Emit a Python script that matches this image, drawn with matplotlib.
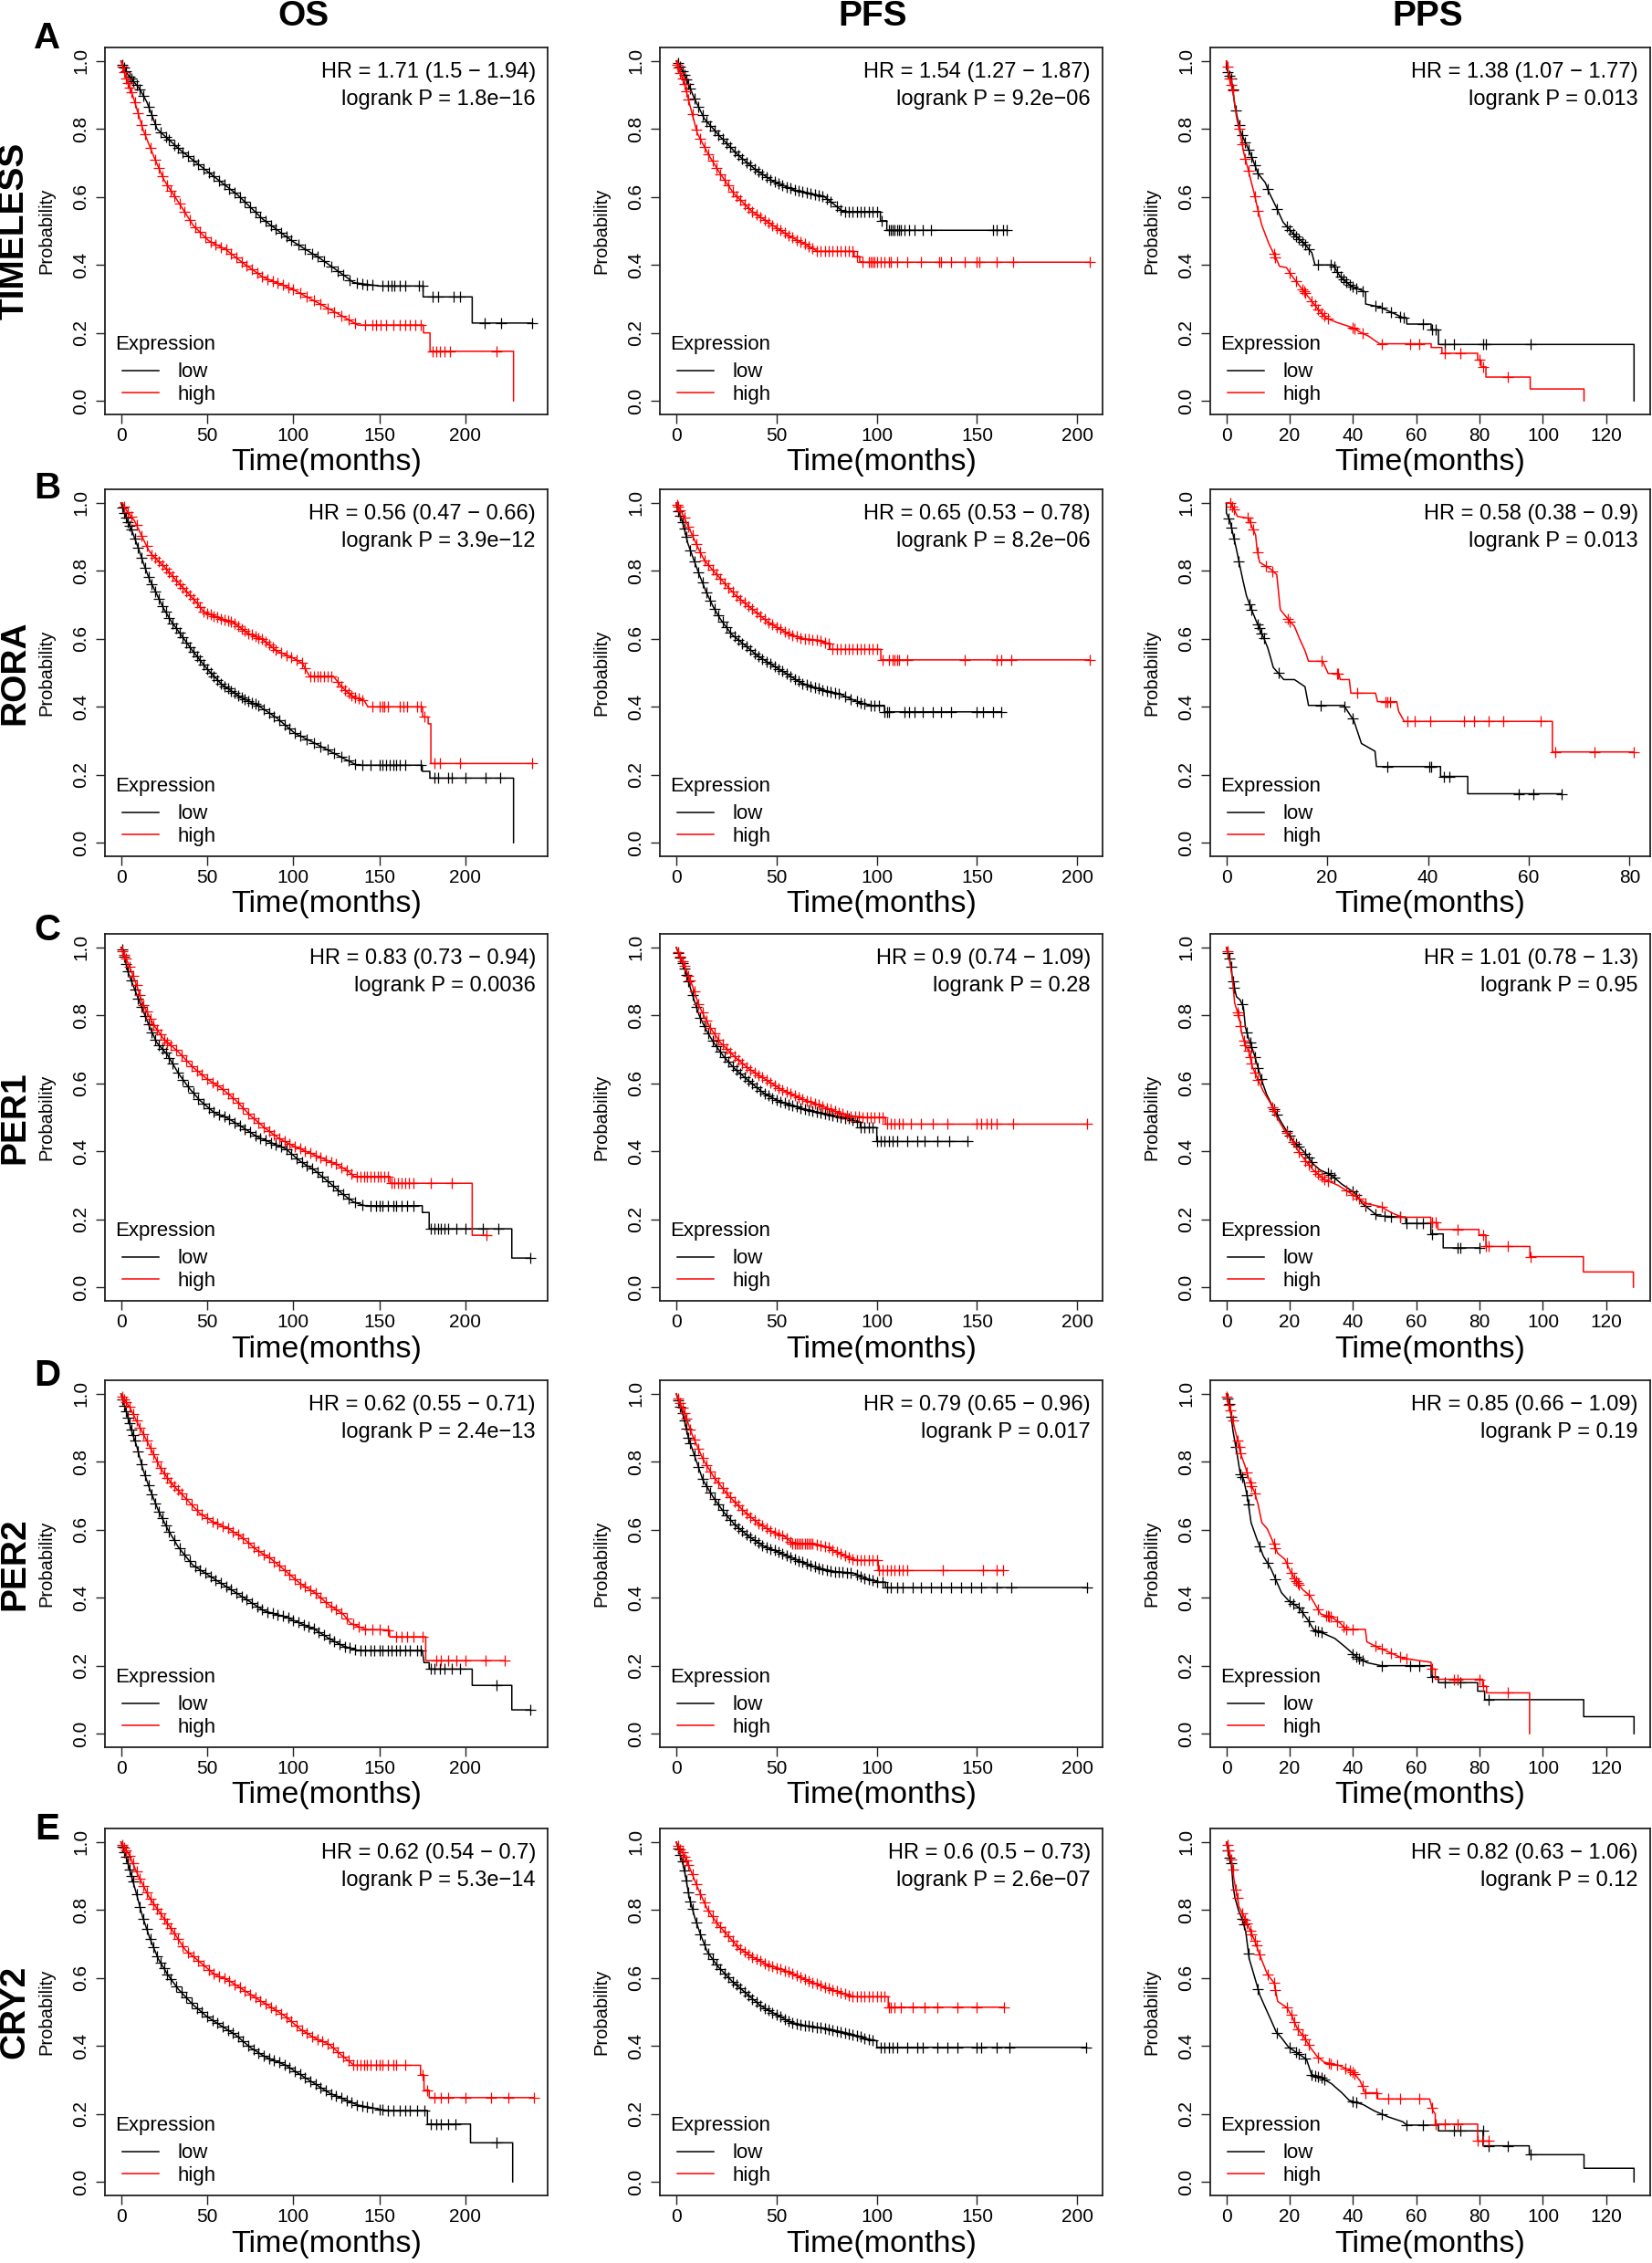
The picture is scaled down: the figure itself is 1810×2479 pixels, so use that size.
import numpy as np
import matplotlib
matplotlib.use("Agg")
import matplotlib.pyplot as plt

plt.rcParams["font.family"] = ["Liberation Sans", "DejaVu Sans"]

# ---- Kaplan-Meier curves: vertices (t, s) and censor times ----
# Row A: TIMELESS
os_timeless_low_t = [0, 4, 10.6, 15, 21, 34, 49, 68, 82.5, 99.5, 116, 131, 135, 150, 175.5, 175.5, 204, 204, 239]
os_timeless_low_s = [1.0, 0.96, 0.92, 0.88, 0.80, 0.74, 0.68, 0.605, 0.534, 0.47, 0.418, 0.364, 0.348, 0.338, 0.338, 0.306, 0.306, 0.229, 0.229]
os_timeless_low_c = [1, 2, 3, 5, 6, 7, 9, 11, 13, 16, 18, 20, 23, 26, 28, 31, 33, 36, 39, 42, 45, 48, 51, 54, 57, 60, 63, 66, 69, 72, 75, 78, 81, 84, 87, 90, 93, 96, 99, 103, 107, 111, 114, 118, 122, 126, 129, 133, 137, 140, 143, 146, 152, 155, 157, 159, 162, 165, 173, 175, 181, 184, 193, 197, 211, 221, 239]
os_timeless_high_t = [0, 3, 7.4, 12.7, 19, 25, 34, 42, 51, 61, 70, 82.5, 99.5, 116, 129, 137.6, 175.7, 175.7, 179.5, 179.5, 228, 228]
os_timeless_high_s = [1.0, 0.95, 0.89, 0.80, 0.72, 0.65, 0.58, 0.516, 0.471, 0.445, 0.409, 0.364, 0.329, 0.284, 0.248, 0.223, 0.223, 0.20, 0.20, 0.146, 0.146, 0.0]
os_timeless_high_c = [1, 2, 3, 4, 5, 6, 8, 10, 12, 14, 17, 20, 22, 24, 27, 29, 31, 34, 37, 40, 43, 46, 49, 52, 55, 58, 61, 64, 67, 70, 73, 76, 79, 82, 85, 88, 91, 94, 97, 100, 104, 108, 112, 116, 120, 124, 128, 132, 136, 142, 146, 148, 151, 154, 158, 162, 165, 168, 171, 174, 181, 183, 185, 188, 191, 218]

pfs_timeless_low_t = [0, 0.5, 5, 8.7, 14, 21.5, 30.5, 39.6, 48.7, 59.6, 67, 74, 79.6, 83, 101.8, 101.8, 105, 105, 164.7]
pfs_timeless_low_s = [1.0, 1.0, 0.947, 0.894, 0.83, 0.78, 0.725, 0.68, 0.645, 0.619, 0.61, 0.60, 0.574, 0.557, 0.557, 0.53, 0.53, 0.502, 0.502]
pfs_timeless_low_c = [1, 2, 3, 4, 5, 6, 7, 9, 11, 13, 15, 17, 19, 21, 23, 25, 27, 29, 31, 33, 35, 37, 39, 41, 43, 45, 47, 49, 51, 53, 55, 57, 59, 61, 63, 65, 67, 69, 71, 73, 75, 77, 80, 82, 84, 86, 88, 90, 92, 94, 96, 98, 100, 102.5, 106, 107, 108, 109, 110, 111, 112, 114, 116, 119, 123, 127, 158, 160, 163, 164.7]
pfs_timeless_high_t = [0, 0.5, 4.2, 6.9, 10.5, 16, 21.5, 28.7, 37.8, 47, 56, 65, 70.5, 88.7, 88.7, 91.5, 91.5, 94, 206]
pfs_timeless_high_s = [1.0, 0.99, 0.93, 0.867, 0.787, 0.725, 0.672, 0.61, 0.557, 0.521, 0.486, 0.459, 0.44, 0.44, 0.425, 0.425, 0.41, 0.408, 0.408]
pfs_timeless_high_c = [0.5, 1, 2, 3, 4, 5, 6, 8, 10, 12, 14, 16, 18, 20, 22, 24, 26, 28, 30, 32, 34, 36, 38, 40, 42, 44, 46, 48, 50, 52, 54, 56, 58, 60, 62, 64, 66, 68, 70, 72, 74, 76, 78, 80, 82, 84, 86, 88, 90, 93, 96, 97, 98, 99, 100, 102, 104, 106, 107, 110, 115, 122, 131, 132, 137, 144, 150, 151, 160, 168, 206]

pps_timeless_low_t = [0, 0, 1.6, 2.7, 4.4, 6.1, 7.8, 10, 12.3, 13.4, 15.7, 17.9, 21.3, 24.6, 27, 28, 33.7, 36, 39.4, 44, 44, 48.4, 51.8, 56, 57, 57, 64.7, 64.7, 67, 67, 128.8, 128.8]
pps_timeless_low_s = [1.0, 0.978, 0.946, 0.866, 0.794, 0.758, 0.723, 0.669, 0.642, 0.615, 0.571, 0.526, 0.49, 0.463, 0.436, 0.40, 0.40, 0.365, 0.338, 0.32, 0.285, 0.276, 0.262, 0.244, 0.244, 0.226, 0.226, 0.209, 0.209, 0.166, 0.166, 0.0]
pps_timeless_low_c = [0.5, 1, 1.5, 2, 3, 4, 5, 6, 7, 8, 9, 10, 13, 16, 19, 20, 21, 22, 23, 24, 25, 26, 29, 33, 34, 35, 36, 37, 38, 39, 40, 41, 43, 47, 49, 52, 55, 56, 62, 65, 66, 69, 72, 81, 82, 96]
pps_timeless_high_t = [0, 0.8, 2.1, 3.3, 4.4, 5.5, 7.2, 8.9, 10, 11.2, 13.4, 15.7, 16.8, 19, 20.2, 22.4, 24.7, 27, 29.2, 31.5, 34.8, 39.4, 42.7, 45, 48.4, 64.7, 64.7, 68.1, 68.1, 79.4, 79.4, 80.5, 80.5, 82, 82, 96, 96, 113, 113]
pps_timeless_high_s = [1.0, 0.955, 0.91, 0.83, 0.785, 0.73, 0.669, 0.606, 0.56, 0.517, 0.463, 0.419, 0.396, 0.392, 0.374, 0.347, 0.32, 0.293, 0.267, 0.244, 0.231, 0.217, 0.2, 0.19, 0.168, 0.168, 0.157, 0.157, 0.14, 0.14, 0.12, 0.12, 0.10, 0.10, 0.07, 0.07, 0.035, 0.035, 0.0]
pps_timeless_high_c = [0.3, 1, 1.5, 2, 4, 5, 6, 7, 9, 10, 15, 15.5, 20, 22, 24, 24.5, 25, 27, 28, 29, 30, 31, 32, 40, 40.5, 43, 49, 58, 61, 69, 74, 80, 81, 89]

# Row B: RORA
os_rora_low_t = [0, 3.6, 6.8, 10, 13, 16.3, 20.6, 24.8, 29, 35.4, 41.7, 50.2, 58.7, 69.3, 79.9, 90.5, 101, 111.7, 120, 128.6, 137, 175, 175, 179.4, 179.4, 228, 228]
os_rora_low_s = [1.0, 0.948, 0.912, 0.868, 0.823, 0.778, 0.733, 0.689, 0.653, 0.608, 0.564, 0.51, 0.465, 0.429, 0.403, 0.367, 0.322, 0.295, 0.273, 0.25, 0.228, 0.228, 0.21, 0.21, 0.19, 0.19, 0.0]
os_rora_low_c = [1, 2, 3, 4, 5, 6, 8, 10, 12, 14, 16, 18, 20, 22, 24, 26, 28, 30, 32, 34, 36, 38, 40, 42, 44, 46, 48, 50, 52, 54, 56, 58, 60, 62, 64, 66, 68, 70, 72, 74, 76, 78, 80, 83, 86, 89, 92, 95, 98, 101, 104, 108, 112, 116, 120, 124, 128, 132, 136, 140, 145, 150, 152, 154, 156, 158, 160, 162, 165, 174, 182, 184, 190, 192, 200, 212, 220]
os_rora_high_t = [0, 0.8, 3.6, 7.8, 12, 16.3, 18.4, 24.8, 31, 37.5, 43.9, 48, 56.6, 65, 73.5, 82, 90.5, 99, 105.3, 109.5, 123.3, 128.6, 135, 141.3, 143.4, 175.2, 175.2, 178.4, 178.4, 180, 180, 238.8]
os_rora_high_s = [1.0, 1.0, 0.975, 0.948, 0.903, 0.859, 0.845, 0.814, 0.778, 0.742, 0.707, 0.68, 0.662, 0.649, 0.617, 0.599, 0.564, 0.546, 0.528, 0.49, 0.49, 0.456, 0.429, 0.418, 0.40, 0.40, 0.37, 0.37, 0.35, 0.35, 0.233, 0.233]
os_rora_high_c = [2, 4, 6, 9, 12, 15, 18, 20, 22, 24, 26, 28, 30, 32, 34, 36, 38, 40, 42, 44, 46, 48, 50, 52, 54, 56, 58, 60, 62, 64, 66, 68, 70, 72, 74, 76, 78, 80, 82, 84, 86, 88, 90, 93, 96, 99, 102, 105, 107, 110, 112, 114, 116, 118, 120, 122, 126, 128, 130, 132, 134, 136, 138, 140, 146, 150, 152, 153, 155, 162, 164, 166, 172, 174, 176, 182, 185, 197, 238.8]

pfs_rora_low_t = [0, 0.4, 2.2, 4, 5.8, 8.5, 11.3, 14.9, 18.5, 22, 27.6, 33, 40.3, 47.5, 54.8, 62, 71, 82, 91, 96.5, 103.8, 103.8, 161.9]
pfs_rora_low_s = [1.0, 0.982, 0.96, 0.924, 0.88, 0.836, 0.791, 0.738, 0.693, 0.658, 0.613, 0.587, 0.551, 0.524, 0.498, 0.471, 0.453, 0.436, 0.413, 0.404, 0.404, 0.385, 0.385]
pfs_rora_low_c = [1, 2, 3, 4, 5, 7, 9, 11, 13, 15, 17, 19, 21, 23, 25, 27, 29, 31, 33, 35, 37, 39, 41, 43, 45, 47, 49, 51, 53, 55, 57, 59, 61, 63, 65, 67, 69, 71, 73, 75, 77, 79, 81, 84, 87, 90, 92, 94, 97, 99, 101, 104, 105, 106, 114, 116, 119, 123, 128, 132, 137, 150, 153, 158, 161.9]
pfs_rora_high_t = [0, 0.4, 3, 5.8, 8.5, 11.3, 14, 18.5, 24, 29.4, 34.8, 40.3, 45.7, 51, 56.6, 63.9, 71, 74.8, 76.6, 76.6, 102, 102, 206.3]
pfs_rora_high_s = [1.0, 0.996, 0.969, 0.933, 0.898, 0.862, 0.831, 0.80, 0.764, 0.729, 0.702, 0.676, 0.649, 0.631, 0.613, 0.60, 0.596, 0.587, 0.587, 0.569, 0.569, 0.538, 0.538]
pfs_rora_high_c = [0.5, 1, 2, 4, 6, 8, 10, 12, 14, 16, 18, 20, 22, 24, 26, 28, 30, 32, 34, 36, 38, 40, 42, 44, 46, 48, 50, 52, 54, 56, 58, 60, 62, 64, 66, 68, 70, 72, 74, 76, 78, 80, 82, 84, 86, 88, 90, 92, 94, 96, 98, 100, 103, 106, 108, 109, 110, 111, 115, 144, 160, 162, 167, 206.3]

pps_rora_low_t = [0, 0, 0.7, 1.2, 1.9, 2.6, 3.3, 4, 5.1, 6.1, 7.2, 8.2, 8.9, 9.3, 11.4, 13.5, 15.6, 16.3, 23.3, 25.3, 26.8, 29.5, 29.8, 42.5, 42.5, 47.9, 47.9, 66.5]
pps_rora_low_s = [1.0, 0.97, 0.948, 0.915, 0.87, 0.82, 0.771, 0.726, 0.682, 0.646, 0.61, 0.574, 0.538, 0.516, 0.48, 0.48, 0.459, 0.404, 0.404, 0.359, 0.292, 0.269, 0.224, 0.224, 0.195, 0.195, 0.144, 0.144]
pps_rora_low_c = [0.5, 1, 1.5, 2.5, 4.6, 5.0, 6.2, 6.5, 7, 7.4, 10.3, 18.8, 23.5, 25, 32, 40.3, 40.6, 43.2, 44.3, 58, 61, 66.5]
pps_rora_high_t = [0, 0.8, 1.5, 2.2, 4.4, 5.1, 5.8, 6.1, 6.6, 8.6, 10, 10.7, 11.4, 12.4, 13.5, 14.5, 15.6, 16.3, 19.1, 20.2, 22.3, 22.6, 24.4, 24.7, 29.6, 30, 33.8, 34.2, 35.3, 64.7, 64.7, 80.9]
pps_rora_high_s = [1.0, 1.0, 0.982, 0.96, 0.955, 0.928, 0.906, 0.861, 0.825, 0.807, 0.789, 0.686, 0.673, 0.655, 0.637, 0.601, 0.565, 0.534, 0.534, 0.498, 0.498, 0.48, 0.48, 0.44, 0.44, 0.415, 0.415, 0.386, 0.357, 0.357, 0.267, 0.267]
pps_rora_high_c = [0.8, 1.2, 1.5, 4.2, 4.7, 5.3, 6.2, 7.8, 9.2, 12.2, 12.6, 18.9, 21.9, 22.2, 25.9, 31.5, 31.9, 32.4, 36, 37.4, 40.5, 47.1, 49.2, 52, 54.9, 62.3, 65.3, 73.1, 80.9]

# Row C: PER1
os_per1_low_t = [0, 0.8, 4.2, 8.3, 12.5, 16.7, 20.8, 27, 33.3, 39.6, 45.8, 54.2, 62.5, 70.8, 79, 87.5, 95.8, 104, 112.5, 120.8, 129, 135.4, 141.7, 175, 175, 179, 179, 227, 227, 237.5]
os_per1_low_s = [1.0, 1.0, 0.926, 0.872, 0.818, 0.765, 0.72, 0.684, 0.63, 0.586, 0.55, 0.514, 0.496, 0.47, 0.443, 0.425, 0.407, 0.371, 0.344, 0.309, 0.273, 0.25, 0.24, 0.24, 0.22, 0.22, 0.172, 0.172, 0.086, 0.086]
os_per1_low_c = [1, 2, 3, 4, 6, 8, 10, 12, 14, 16, 18, 20, 22, 24, 26, 28, 30, 33, 36, 39, 42, 45, 48, 51, 54, 57, 60, 63, 66, 69, 72, 75, 78, 81, 84, 87, 90, 93, 96, 99, 102, 105, 108, 111, 114, 117, 120, 123, 126, 129, 132, 136, 140, 145, 148, 150, 152, 155, 158, 160, 163, 166, 170, 180, 182, 184, 186, 188, 190, 195, 200, 210, 219, 237.5]
os_per1_high_t = [0, 4.2, 8.3, 12.5, 18.75, 25, 33.3, 41.7, 50, 58.3, 66.7, 75, 83.3, 91.7, 100, 108.3, 116.7, 125, 131.3, 135.4, 156.3, 156.3, 204, 204, 212.5]
os_per1_high_s = [1.0, 0.953, 0.90, 0.836, 0.774, 0.729, 0.693, 0.648, 0.613, 0.586, 0.55, 0.506, 0.47, 0.438, 0.416, 0.398, 0.38, 0.362, 0.344, 0.326, 0.326, 0.306, 0.306, 0.153, 0.153]
os_per1_high_c = [1, 2, 3, 5, 7, 9, 11, 13, 15, 17, 19, 21, 23, 25, 27, 29, 32, 35, 38, 41, 44, 47, 50, 53, 56, 59, 62, 65, 68, 71, 74, 77, 80, 83, 86, 89, 92, 95, 98, 101, 104, 107, 110, 113, 116, 119, 122, 125, 128, 131, 134, 137, 139, 141, 143, 145, 147, 149, 151, 153, 155, 157, 159, 161, 163, 165, 167, 170, 180, 192, 212.5]

pfs_per1_low_t = [0, 4.3, 7.9, 11.4, 15, 18.6, 23.9, 29.3, 36.4, 43.6, 50.7, 57.9, 65, 72, 79, 86.4, 90, 91.8, 91.8, 100, 100, 145.4]
pfs_per1_low_s = [1.0, 0.934, 0.863, 0.80, 0.756, 0.72, 0.677, 0.642, 0.606, 0.571, 0.549, 0.535, 0.522, 0.513, 0.504, 0.496, 0.487, 0.487, 0.47, 0.47, 0.429, 0.429]
pfs_per1_low_c = [1, 2, 3, 4, 5, 6, 8, 10, 12, 14, 16, 18, 20, 22, 24, 26, 28, 30, 32, 34, 36, 38, 40, 42, 44, 46, 48, 50, 52, 54, 56, 58, 60, 62, 64, 66, 68, 70, 72, 74, 76, 78, 80, 82, 84, 86, 88, 90, 92, 94, 96, 98, 100, 102, 104, 106, 108, 110, 115, 120, 124, 130, 136, 145.4]
pfs_per1_high_t = [0, 4.3, 7.9, 11.4, 16.8, 22, 29.3, 36.4, 43.6, 50.7, 57.9, 65, 72, 79, 86.4, 95, 104.3, 104.3, 205]
pfs_per1_high_s = [1.0, 0.942, 0.889, 0.827, 0.765, 0.72, 0.677, 0.642, 0.615, 0.588, 0.566, 0.549, 0.535, 0.518, 0.504, 0.50, 0.50, 0.48, 0.48]
pfs_per1_high_c = [1, 2, 3, 4, 6, 7, 9, 11, 13, 15, 17, 19, 21, 23, 25, 27, 29, 31, 33, 35, 37, 39, 41, 43, 45, 47, 49, 51, 53, 55, 57, 59, 61, 63, 65, 67, 69, 71, 73, 75, 77, 79, 81, 83, 85, 87, 89, 91, 93, 95, 97, 99, 101, 103, 105, 107, 109, 111, 113, 117, 122, 128, 135, 150, 152, 155, 157, 160, 168, 205]

pps_per1_low_t = [0, 0.9, 1.5, 2, 3.2, 4.3, 5.4, 6, 7.1, 8.8, 9.9, 11, 12.7, 15, 17.2, 19.5, 21.7, 24.6, 27.4, 29.6, 33, 36.4, 40.5, 43, 45.4, 47.7, 56.7, 56.7, 64.6, 64.6, 68.5, 68.5, 80.1]
pps_per1_low_s = [1.0, 0.971, 0.944, 0.90, 0.855, 0.846, 0.824, 0.765, 0.73, 0.685, 0.649, 0.613, 0.568, 0.524, 0.488, 0.452, 0.425, 0.398, 0.363, 0.345, 0.331, 0.304, 0.278, 0.246, 0.228, 0.21, 0.206, 0.188, 0.188, 0.157, 0.157, 0.116, 0.116]
pps_per1_low_c = [0.5, 1, 1.5, 2, 2.5, 5, 6.5, 7.5, 8, 9, 10, 11, 15, 16, 19, 20, 22, 23, 25, 26, 27, 32, 33, 34, 40, 41, 44, 47, 50, 52, 55, 57, 60, 62, 65, 73, 74, 80]
pps_per1_high_t = [0, 1.2, 2, 2.6, 3.5, 4.3, 4.8, 6, 7.1, 8.2, 9.9, 11.6, 13.9, 16.1, 18.4, 20.6, 22.9, 25.1, 27.4, 30.8, 35.3, 39.8, 44.3, 48.8, 52.2, 55.6, 64.6, 64.6, 66.8, 66.8, 79.8, 79.8, 82, 82, 95.9, 95.9, 112.8, 112.8, 128.6, 128.6]
pps_per1_high_s = [1.0, 0.953, 0.90, 0.837, 0.81, 0.783, 0.748, 0.712, 0.694, 0.649, 0.613, 0.578, 0.542, 0.497, 0.461, 0.434, 0.398, 0.371, 0.345, 0.318, 0.30, 0.273, 0.246, 0.237, 0.219, 0.206, 0.206, 0.19, 0.19, 0.17, 0.17, 0.154, 0.154, 0.12, 0.12, 0.09, 0.09, 0.045, 0.045, 0.0]
pps_per1_high_c = [0.3, 3.5, 3.8, 4.5, 5.5, 6, 7, 7.5, 8, 9, 10, 14.5, 15, 19, 21, 23, 25, 26, 28, 29, 30, 31, 32, 38, 40, 42, 44, 49, 55, 65, 66, 73, 81, 82, 83, 89, 96]

# Row D: PER2
os_per2_low_t = [0, 3.3, 6.25, 9.2, 12.5, 16.7, 21.7, 27, 33.3, 41.7, 50, 58.3, 66.7, 75, 83.3, 95.8, 104, 112.5, 120.8, 129, 137.5, 175, 176, 179, 179, 204, 204, 227, 227, 237.5]
os_per2_low_s = [1.0, 0.944, 0.89, 0.845, 0.782, 0.72, 0.657, 0.603, 0.549, 0.496, 0.469, 0.442, 0.415, 0.388, 0.361, 0.343, 0.325, 0.307, 0.28, 0.258, 0.245, 0.245, 0.209, 0.209, 0.19, 0.19, 0.142, 0.142, 0.07, 0.07]
os_per2_low_c = [1, 2, 3, 4, 5, 6, 7, 8, 10, 12, 14, 16, 18, 20, 22, 24, 26, 28, 31, 34, 37, 40, 43, 46, 49, 52, 55, 58, 61, 64, 67, 70, 73, 76, 79, 82, 85, 88, 91, 94, 97, 100, 103, 106, 109, 112, 115, 118, 121, 124, 127, 130, 133, 136, 139, 142, 145, 147, 150, 152, 155, 157, 160, 162, 165, 168, 172, 174, 180, 182, 185, 188, 192, 197, 218, 237.5]
os_per2_high_t = [0, 5, 10.4, 16.7, 22.9, 29.2, 37.5, 45.8, 54.2, 62.5, 70.8, 79, 87.5, 95.8, 104, 112.5, 120.8, 129, 133.3, 141.7, 156, 156, 177, 177, 223]
os_per2_high_s = [1.0, 0.961, 0.907, 0.845, 0.782, 0.737, 0.693, 0.648, 0.621, 0.603, 0.576, 0.54, 0.513, 0.478, 0.442, 0.415, 0.379, 0.352, 0.325, 0.307, 0.305, 0.285, 0.285, 0.215, 0.215]
os_per2_high_c = [1, 2, 3, 5, 7, 9, 11, 13, 15, 17, 19, 21, 23, 25, 27, 29, 31, 33, 35, 38, 41, 44, 47, 50, 53, 56, 59, 62, 65, 68, 71, 74, 77, 80, 83, 86, 89, 92, 95, 98, 101, 104, 107, 110, 113, 116, 119, 122, 125, 128, 131, 135, 138, 142, 146, 150, 155, 160, 163, 166, 170, 175, 183, 186, 190, 195, 200, 212, 223]

pfs_per2_low_t = [0, 3.6, 6, 9.6, 13.2, 18.6, 23.9, 29.3, 36.4, 43.6, 50.7, 57.9, 65, 72, 79, 88.2, 93.6, 100.7, 104.3, 104.3, 205]
pfs_per2_low_s = [1.0, 0.933, 0.871, 0.809, 0.747, 0.694, 0.65, 0.614, 0.579, 0.552, 0.535, 0.517, 0.499, 0.486, 0.477, 0.473, 0.459, 0.446, 0.446, 0.43, 0.43]
pfs_per2_low_c = [1, 2, 3, 4, 5, 6, 7, 9, 11, 13, 15, 17, 19, 21, 23, 25, 27, 29, 31, 33, 35, 37, 39, 41, 43, 45, 47, 49, 51, 53, 55, 57, 59, 61, 63, 65, 67, 69, 71, 73, 75, 77, 79, 81, 83, 85, 87, 90, 92, 94, 96, 98, 100, 103, 105, 107, 110, 113, 118, 122, 127, 132, 137, 142, 147, 152, 160, 167, 205]
pfs_per2_high_t = [0, 4.3, 7.9, 13.2, 18.6, 25.7, 32.9, 40, 47, 54.3, 58, 68.6, 75.7, 82.9, 90, 100.7, 100.7, 163.2]
pfs_per2_high_s = [1.0, 0.94, 0.88, 0.809, 0.756, 0.703, 0.659, 0.623, 0.597, 0.579, 0.56, 0.56, 0.548, 0.526, 0.51, 0.51, 0.48, 0.48]
pfs_per2_high_c = [1, 2, 3, 4, 5, 7, 9, 11, 13, 15, 17, 19, 21, 23, 25, 27, 29, 31, 33, 35, 37, 39, 41, 43, 45, 47, 49, 51, 53, 55, 57, 58, 59, 60, 61, 62, 63, 64, 65, 66, 67, 68, 70, 72, 74, 76, 78, 80, 82, 84, 86, 88, 90, 92, 94, 96, 98, 100, 101, 103, 105, 107, 109, 111, 113, 115, 133, 153, 160, 163.2]

pps_per2_low_t = [0, 1, 2.1, 3.3, 4.4, 5.5, 6.7, 7.8, 9.5, 11.7, 14, 15.7, 17.4, 19.6, 23, 25.8, 27.5, 30.9, 34.3, 37.7, 41, 44.4, 48.9, 64.7, 64.7, 67, 67, 79.4, 79.4, 81.6, 81.6, 112.9, 112.9, 128.8, 128.8]
pps_per2_low_s = [1.0, 0.97, 0.89, 0.827, 0.764, 0.747, 0.693, 0.621, 0.576, 0.522, 0.487, 0.451, 0.415, 0.392, 0.37, 0.334, 0.307, 0.294, 0.28, 0.254, 0.227, 0.209, 0.20, 0.20, 0.167, 0.167, 0.15, 0.15, 0.125, 0.125, 0.10, 0.10, 0.05, 0.05, 0.0]
pps_per2_low_c = [0.5, 1, 1.5, 3, 4.5, 5, 6.5, 7, 10.5, 13, 15.5, 20, 21, 23, 24, 26, 28, 29, 30, 40, 41, 42, 43, 49, 58, 61, 65, 69, 74, 83]
pps_per2_high_t = [0, 1, 2.1, 3.3, 4.4, 6.1, 7.2, 8.9, 10, 11.2, 12.9, 14.6, 16.2, 18.5, 20.2, 21.9, 24.1, 26.4, 28.1, 29.8, 33.2, 36, 37.7, 43.9, 44.4, 47.8, 52.3, 55.7, 64.7, 64.7, 66, 66, 81, 81, 82.2, 82.2, 95.8, 95.8]
pps_per2_high_s = [1.0, 0.96, 0.917, 0.872, 0.827, 0.782, 0.746, 0.711, 0.675, 0.621, 0.603, 0.567, 0.531, 0.513, 0.478, 0.451, 0.424, 0.406, 0.379, 0.352, 0.343, 0.325, 0.307, 0.307, 0.27, 0.254, 0.236, 0.222, 0.21, 0.19, 0.19, 0.16, 0.16, 0.14, 0.14, 0.12, 0.12, 0.0]
pps_per2_high_c = [0.2, 0.8, 1.2, 2, 3.5, 4, 4.5, 6.5, 7.5, 8, 9, 15, 15.5, 19, 20.5, 21.5, 22, 22.5, 23, 26, 29, 31.5, 32, 32.5, 33, 35, 37, 38, 40, 47, 49, 52, 55, 57, 65, 72, 73, 80, 81, 89]

# Row E: CRY2
os_cry2_low_t = [0, 3.3, 6.25, 9.2, 12.5, 16.7, 21.7, 27, 33.3, 41.7, 50, 58.3, 66.7, 75, 83.3, 95.8, 104, 112.5, 120.8, 129, 137.5, 154, 178, 178, 203, 203, 227.5, 227.5]
os_cry2_low_s = [1.0, 0.951, 0.897, 0.844, 0.781, 0.718, 0.656, 0.611, 0.567, 0.522, 0.486, 0.459, 0.432, 0.396, 0.369, 0.343, 0.316, 0.289, 0.262, 0.244, 0.226, 0.21, 0.21, 0.17, 0.17, 0.115, 0.115, 0.0]
os_cry2_low_c = [1, 2, 3, 4, 5, 6, 7, 9, 11, 13, 15, 17, 19, 21, 23, 25, 27, 29, 32, 35, 38, 41, 44, 47, 50, 53, 56, 59, 62, 65, 68, 71, 74, 77, 80, 83, 86, 89, 92, 95, 98, 101, 104, 107, 110, 113, 116, 119, 122, 125, 128, 131, 134, 137, 140, 143, 146, 150, 152, 155, 158, 162, 165, 168, 172, 176, 180, 183, 186, 190, 194, 218]
os_cry2_high_t = [0, 5, 10.4, 16.7, 22.9, 29.2, 37.5, 45.8, 54.2, 62.5, 70.8, 79, 87.5, 95.8, 104, 112.5, 120.8, 129, 135.4, 174, 174, 176, 176, 179, 179, 239.6]
os_cry2_high_s = [1.0, 0.96, 0.897, 0.835, 0.79, 0.745, 0.682, 0.647, 0.611, 0.593, 0.566, 0.539, 0.513, 0.486, 0.45, 0.423, 0.405, 0.369, 0.343, 0.343, 0.315, 0.315, 0.27, 0.27, 0.248, 0.248]
os_cry2_high_c = [1, 2, 3, 5, 7, 9, 11, 13, 15, 17, 19, 21, 23, 25, 27, 29, 31, 33, 36, 39, 42, 45, 48, 51, 54, 57, 60, 63, 66, 69, 72, 75, 78, 81, 84, 87, 90, 93, 96, 99, 102, 105, 108, 111, 114, 117, 120, 123, 126, 129, 132, 135, 137, 139, 141, 143, 145, 148, 150, 152, 155, 158, 160, 165, 175, 178, 182, 186, 190, 200, 215, 225, 239.6]

pfs_cry2_low_t = [0, 2.9, 4.6, 6.4, 9.3, 11.8, 15.4, 20.7, 27.9, 35, 42.1, 50, 57, 64, 74.3, 85, 95.7, 100, 100, 204.6]
pfs_cry2_low_s = [1.0, 0.945, 0.90, 0.838, 0.776, 0.732, 0.678, 0.634, 0.59, 0.554, 0.518, 0.492, 0.47, 0.46, 0.452, 0.438, 0.42, 0.415, 0.396, 0.396]
pfs_cry2_low_c = [1, 2, 3, 4, 5, 6, 7, 8, 10, 12, 14, 16, 18, 20, 22, 24, 26, 28, 30, 32, 34, 36, 38, 40, 42, 44, 46, 48, 50, 52, 54, 56, 58, 60, 62, 64, 66, 68, 70, 72, 74, 76, 78, 80, 82, 84, 86, 88, 90, 92, 94, 96, 98, 102, 104, 106, 108, 110, 115, 120, 123, 130, 135, 140, 150, 152, 160, 166, 204.6]
pfs_cry2_high_t = [0, 3.6, 7.1, 10.7, 15.4, 20.7, 26, 31.4, 38.6, 45.7, 52.9, 60, 67, 74.3, 81.4, 88.6, 105.7, 105.7, 163.6]
pfs_cry2_high_s = [1.0, 0.963, 0.918, 0.865, 0.803, 0.758, 0.723, 0.687, 0.66, 0.638, 0.625, 0.607, 0.589, 0.572, 0.558, 0.545, 0.545, 0.514, 0.514]
pfs_cry2_high_c = [1, 2, 3, 4, 5, 6, 8, 10, 12, 14, 16, 18, 20, 22, 24, 26, 28, 30, 32, 34, 36, 38, 40, 42, 44, 46, 48, 50, 52, 54, 56, 58, 60, 62, 64, 66, 68, 70, 72, 74, 76, 78, 80, 82, 84, 86, 88, 90, 92, 94, 96, 98, 100, 102, 104, 106, 107, 109, 112, 118, 124, 130, 140, 150, 163.6]

pps_cry2_low_t = [0, 1, 1.6, 2.1, 2.7, 3.8, 5, 6.1, 7.2, 8.9, 10.6, 12.3, 14, 15.7, 17.4, 19.6, 22.4, 25.3, 26.9, 29.8, 33.2, 36.5, 38.8, 43.3, 46.7, 51.2, 55.7, 57, 67, 67, 81.1, 81.1, 95.7, 95.7, 113, 113, 128.8, 128.8]
pps_cry2_low_s = [1.0, 0.953, 0.935, 0.872, 0.836, 0.80, 0.773, 0.737, 0.657, 0.603, 0.549, 0.513, 0.478, 0.442, 0.424, 0.397, 0.379, 0.361, 0.316, 0.307, 0.289, 0.262, 0.24, 0.227, 0.209, 0.191, 0.177, 0.167, 0.167, 0.15, 0.15, 0.106, 0.106, 0.08, 0.08, 0.04, 0.04, 0.0]
pps_cry2_low_c = [0.5, 1, 1.5, 5, 5.5, 7, 10, 16, 20, 22, 23, 25, 27, 28, 29, 30, 31, 40, 41, 49, 57, 62, 72, 74, 81, 83, 89, 96]
pps_cry2_high_t = [0, 1, 1.8, 2.4, 3.3, 4, 5.5, 7.2, 8.9, 10.6, 12.9, 15.1, 16.2, 19.1, 20.8, 22.4, 24.7, 26.4, 28.6, 30.9, 35.4, 39.9, 42.2, 43.9, 47.8, 47.8, 64.2, 65.3, 66, 66, 79.4, 79.4, 82.8]
pps_cry2_high_s = [1.0, 0.97, 0.935, 0.89, 0.845, 0.809, 0.782, 0.746, 0.711, 0.666, 0.612, 0.585, 0.531, 0.513, 0.486, 0.451, 0.424, 0.397, 0.37, 0.352, 0.343, 0.325, 0.298, 0.262, 0.262, 0.244, 0.244, 0.209, 0.20, 0.17, 0.17, 0.12, 0.12]
pps_cry2_high_c = [0.3, 0.8, 1.5, 2, 3, 3.5, 5, 6, 6.5, 7.5, 8, 9, 9.5, 10.5, 13, 15, 15.5, 19, 20.5, 21.5, 22.5, 24, 25, 26, 29, 32.5, 33, 35, 37.5, 39, 40, 40.5, 43, 44, 47.5, 51, 55, 61, 65, 66, 69, 73, 79.5, 81, 83]

# ---- labels ----
genes = ["TIMELESS", "RORA", "PER1", "PER2", "CRY2"]
letters = ["A", "B", "C", "D", "E"]
endpoints = ["OS", "PFS", "PPS"]
hr_text = [
    ["HR = 1.71 (1.5 \u2212 1.94)", "HR = 1.54 (1.27 \u2212 1.87)", "HR = 1.38 (1.07 \u2212 1.77)"],
    ["HR = 0.56 (0.47 \u2212 0.66)", "HR = 0.65 (0.53 \u2212 0.78)", "HR = 0.58 (0.38 \u2212 0.9)"],
    ["HR = 0.83 (0.73 \u2212 0.94)", "HR = 0.9 (0.74 \u2212 1.09)", "HR = 1.01 (0.78 \u2212 1.3)"],
    ["HR = 0.62 (0.55 \u2212 0.71)", "HR = 0.79 (0.65 \u2212 0.96)", "HR = 0.85 (0.66 \u2212 1.09)"],
    ["HR = 0.62 (0.54 \u2212 0.7)", "HR = 0.6 (0.5 \u2212 0.73)", "HR = 0.82 (0.63 \u2212 1.06)"],
]
p_text = [
    ["1.8e\u221216", "9.2e\u221206", "0.013"],
    ["3.9e\u221212", "8.2e\u221206", "0.013"],
    ["0.0036", "0.28", "0.95"],
    ["2.4e\u221213", "0.017", "0.19"],
    ["5.3e\u221214", "2.6e\u221207", "0.12"],
]

curves = [
    [(os_timeless_low_t, os_timeless_low_s, os_timeless_low_c, os_timeless_high_t, os_timeless_high_s, os_timeless_high_c),
     (pfs_timeless_low_t, pfs_timeless_low_s, pfs_timeless_low_c, pfs_timeless_high_t, pfs_timeless_high_s, pfs_timeless_high_c),
     (pps_timeless_low_t, pps_timeless_low_s, pps_timeless_low_c, pps_timeless_high_t, pps_timeless_high_s, pps_timeless_high_c)],
    [(os_rora_low_t, os_rora_low_s, os_rora_low_c, os_rora_high_t, os_rora_high_s, os_rora_high_c),
     (pfs_rora_low_t, pfs_rora_low_s, pfs_rora_low_c, pfs_rora_high_t, pfs_rora_high_s, pfs_rora_high_c),
     (pps_rora_low_t, pps_rora_low_s, pps_rora_low_c, pps_rora_high_t, pps_rora_high_s, pps_rora_high_c)],
    [(os_per1_low_t, os_per1_low_s, os_per1_low_c, os_per1_high_t, os_per1_high_s, os_per1_high_c),
     (pfs_per1_low_t, pfs_per1_low_s, pfs_per1_low_c, pfs_per1_high_t, pfs_per1_high_s, pfs_per1_high_c),
     (pps_per1_low_t, pps_per1_low_s, pps_per1_low_c, pps_per1_high_t, pps_per1_high_s, pps_per1_high_c)],
    [(os_per2_low_t, os_per2_low_s, os_per2_low_c, os_per2_high_t, os_per2_high_s, os_per2_high_c),
     (pfs_per2_low_t, pfs_per2_low_s, pfs_per2_low_c, pfs_per2_high_t, pfs_per2_high_s, pfs_per2_high_c),
     (pps_per2_low_t, pps_per2_low_s, pps_per2_low_c, pps_per2_high_t, pps_per2_high_s, pps_per2_high_c)],
    [(os_cry2_low_t, os_cry2_low_s, os_cry2_low_c, os_cry2_high_t, os_cry2_high_s, os_cry2_high_c),
     (pfs_cry2_low_t, pfs_cry2_low_s, pfs_cry2_low_c, pfs_cry2_high_t, pfs_cry2_high_s, pfs_cry2_high_c),
     (pps_cry2_low_t, pps_cry2_low_s, pps_cry2_low_c, pps_cry2_high_t, pps_cry2_high_s, pps_cry2_high_c)],
]

# ---- layout (pixels of the 1810 x 2479 figure) ----
W, H = 1810, 2479
col_left = [115, 723, 1326]
col_width = [485, 485, 482]
row_top = [52, 536, 1023, 1512, 2003]
box_h = 402
letter_y = [42, 535, 1019, 1507, 2004]
xlims = [(-9.3, 247.8), (-8.2, 212.6), (-5.1, 133.9)]
xticks = [[0, 50, 100, 150, 200], [0, 50, 100, 150, 200], [0, 20, 40, 60, 80, 100, 120]]

fig = plt.figure(figsize=(W / 100, H / 100), dpi=100)
ink = "#222222"


def draw_curve(ax, t, s, cens, color, label):
    t = np.asarray(t, dtype=float)
    s = np.asarray(s, dtype=float)
    c = np.asarray(cens, dtype=float)
    line, = ax.plot(t, s, color=color, lw=1.1, label=label)
    ax.plot(c, np.interp(c, t, s), linestyle="none", marker="+",
            ms=8, mew=0.9, color=color)
    return line


for r in range(5):
    for k in range(3):
        ax = fig.add_axes([col_left[k] / W, 1 - (row_top[r] + box_h) / H,
                           col_width[k] / W, box_h / H])
        lt, ls, lc, ht, hs, hc = curves[r][k]
        l1 = draw_curve(ax, lt, ls, lc, "black", "low")
        l2 = draw_curve(ax, ht, hs, hc, "red", "high")

        if r == 1 and k == 2:
            ax.set_xlim(-3.2, 84.1)
            ax.set_xticks([0, 20, 40, 60, 80])
        else:
            ax.set_xlim(*xlims[k])
            ax.set_xticks(xticks[k])
        ax.set_ylim(-0.04, 1.04)
        ax.set_yticks([0.0, 0.2, 0.4, 0.6, 0.8, 1.0])
        ax.set_yticklabels(["0.0", "0.2", "0.4", "0.6", "0.8", "1.0"])
        ax.tick_params(direction="out", length=7, width=1.0, color=ink,
                       labelsize=15, labelcolor="black")
        ax.tick_params(axis="y", pad=5)
        ax.tick_params(axis="x", pad=3)
        for lab in ax.get_yticklabels():
            lab.set_rotation(90)
            lab.set_va("center")
        for sp in ax.spines.values():
            sp.set_linewidth(1.3)
            sp.set_color(ink)

        ax.set_xlabel("Time(months)", fontsize=24.5, va="center")
        ax.xaxis.set_label_coords(0.5, -53 / box_h)
        ax.set_ylabel("Probability", fontsize=14.5, va="center")
        ax.yaxis.set_label_coords(-64 / col_width[k], 0.5)

        ax.text(0.973, 0.933, hr_text[r][k], transform=ax.transAxes,
                ha="right", va="center", fontsize=17)
        ax.text(0.973, 0.858, "logrank P = " + p_text[r][k], transform=ax.transAxes,
                ha="right", va="center", fontsize=17)

        # legend: title placed as text, entries through ax.legend
        ax.text(11 / col_width[k], 0.19, "Expression", transform=ax.transAxes,
                ha="left", va="center", fontsize=16)
        ax.legend(handles=[l1, l2], loc="lower left",
                  bbox_to_anchor=(19 / col_width[k], 0.027), frameon=False,
                  fontsize=16, handlelength=1.8, handletextpad=0.9,
                  labelspacing=0.17, borderaxespad=0.0, borderpad=0.0)

    fig.text(16 / W, 1 - (row_top[r] + box_h / 2) / H, genes[r], rotation=90,
             ha="center", va="center", fontsize=28, fontweight="bold")
    fig.text(52 / W, 1 - letter_y[r] / H, letters[r], ha="center", va="center",
             fontsize=29, fontweight="bold")

for x, name in zip([332, 956, 1564], endpoints):
    fig.text(x / W, 1 - 18 / H, name, ha="center", va="center",
             fontsize=28, fontweight="bold")

fig.savefig("out.png", dpi=100, facecolor="white")
